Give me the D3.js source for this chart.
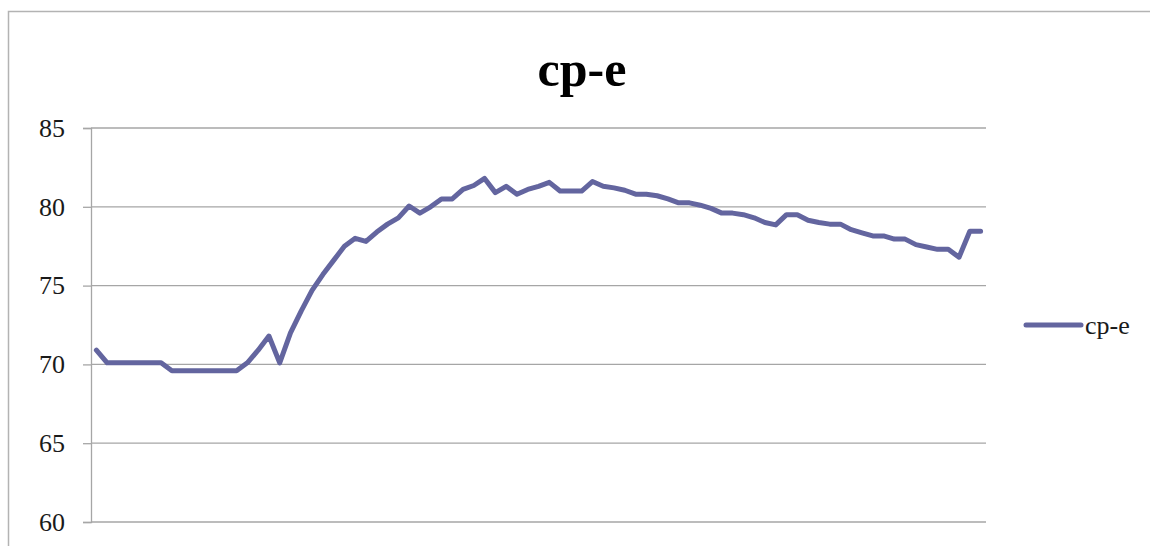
<!DOCTYPE html>
<html>
<head>
<meta charset="utf-8">
<script src="https://cdn.jsdelivr.net/npm/d3@7"></script>
<style>
  html, body { margin: 0; padding: 0; background: #fff; }
  svg { display: block; }
</style>
</head>
<body>
<svg id="chart" width="1150" height="546"></svg>
<script>
const title = "cp-e";
const seriesName = "cp-e";
const yTicks = [60, 65, 70, 75, 80, 85];
const categories = d3.range(1, 84);
const values = [
  70.9, 70.1, 70.1, 70.1, 70.1, 70.1, 70.1, 69.6, 69.6, 69.6,
  69.6, 69.6, 69.6, 69.6, 70.1, 70.9, 71.8, 70.1, 72.0, 73.4,
  74.7, 75.7, 76.6, 77.5, 78.0, 77.8, 78.4, 78.9, 79.3, 80.05,
  79.6, 80.0, 80.5, 80.5, 81.1, 81.35, 81.8, 80.9, 81.3, 80.8,
  81.1, 81.3, 81.55, 81.0, 81.0, 81.0, 81.6, 81.3, 81.2, 81.05,
  80.8, 80.8, 80.7, 80.5, 80.25, 80.25, 80.1, 79.9, 79.6, 79.6,
  79.5, 79.3, 79.0, 78.85, 79.5, 79.5, 79.15, 79.0, 78.9, 78.9,
  78.55, 78.35, 78.15, 78.15, 77.95, 77.95, 77.6, 77.45, 77.3, 77.3,
  76.8, 78.45, 78.45
];

const svg = d3.select("#chart");
const W = 1150, H = 546;
const plot = { left: 91, right: 986, top: 128, bottom: 522 };
const lineColor = "#63659f";
const gridColor = "#a6a6a6";
const serif = "'Liberation Serif', 'Times New Roman', serif";

// outer chart border
svg.append("path")
  .attr("d", `M8.5,${H} L8.5,11.5 L${W},11.5`)
  .attr("fill", "none")
  .attr("stroke", "#b3b3b3")
  .attr("stroke-width", 1.5);

const x = d3.scalePoint()
  .domain(categories)
  .range([plot.left, plot.right])
  .padding(0.5);

const y = d3.scaleLinear()
  .domain([60, 85])
  .range([plot.bottom, plot.top]);

// gridlines
svg.append("g")
  .selectAll("line")
  .data(yTicks)
  .join("line")
  .attr("x1", plot.left)
  .attr("x2", plot.right)
  .attr("y1", d => y(d))
  .attr("y2", d => y(d))
  .attr("stroke", gridColor)
  .attr("stroke-width", 1.3);

// y axis
const yAxis = d3.axisLeft(y)
  .tickValues(yTicks)
  .tickSize(8)
  .tickPadding(18)
  .tickFormat(d3.format("d"));

const gy = svg.append("g")
  .attr("transform", `translate(${plot.left},0)`)
  .call(yAxis);
gy.select(".domain").attr("stroke", gridColor).attr("stroke-width", 1.3);
gy.selectAll(".tick line").attr("stroke", gridColor).attr("stroke-width", 1.3);
gy.selectAll(".tick text")
  .attr("font-family", serif)
  .attr("font-size", 26)
  .attr("fill", "#1a1a1a");

// line
const line = d3.line()
  .x((d, i) => x(categories[i]))
  .y(d => y(d));

svg.append("path")
  .datum(values)
  .attr("d", line)
  .attr("fill", "none")
  .attr("stroke", lineColor)
  .attr("stroke-width", 5)
  .attr("stroke-linejoin", "round")
  .attr("stroke-linecap", "round");

// title
svg.append("text")
  .attr("x", 582)
  .attr("y", 86)
  .attr("text-anchor", "middle")
  .attr("font-family", serif)
  .attr("font-weight", "bold")
  .attr("font-size", 50)
  .attr("fill", "#000")
  .text(title);

// legend
const lg = svg.append("g").attr("transform", "translate(1026,325)");
lg.append("line")
  .attr("x1", 0).attr("x2", 55)
  .attr("y1", 0).attr("y2", 0)
  .attr("stroke", lineColor)
  .attr("stroke-width", 5)
  .attr("stroke-linecap", "round");
lg.append("text")
  .attr("x", 59)
  .attr("y", 0)
  .attr("dy", "0.35em")
  .attr("font-family", serif)
  .attr("font-size", 26)
  .attr("fill", "#1a1a1a")
  .text(seriesName);
</script>
</body>
</html>
